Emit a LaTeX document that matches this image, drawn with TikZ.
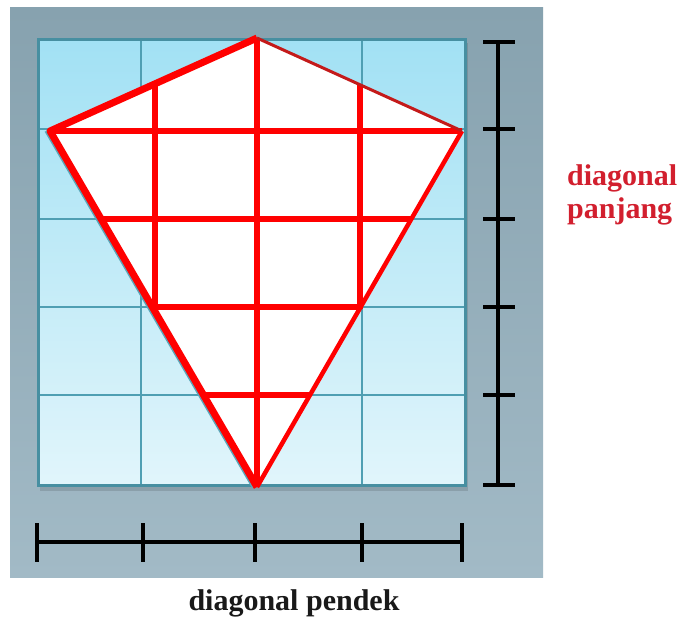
\documentclass[tikz,border=0pt]{standalone}
\usepackage{fontspec}
\setmainfont{Liberation Serif}
\definecolor{panelT}{HTML}{87A2AF}
\definecolor{panelB}{HTML}{A2BAC6}
\definecolor{tileT}{HTML}{A2E1F4}
\definecolor{tileB}{HTML}{E1F5FB}
\definecolor{tealln}{HTML}{4F9FB3}
\definecolor{kred}{HTML}{FF0000}
\definecolor{kdred}{HTML}{C41A1A}
\definecolor{txtred}{HTML}{D21F2E}
\definecolor{shadowc}{HTML}{5AA6B9}
\begin{document}
\begin{tikzpicture}[x=1pt,y=-1pt,
  tileline/.style={draw=tealln,line width=2pt},
  tileborder/.style={draw=tealln!90!black,line width=3pt},
  redln/.style={draw=kred,line width=6pt},
  scl/.style={draw=black,line width=4pt},
  lbl/.style={font=\fontsize{30}{33}\selectfont\bfseries,inner sep=0pt}]
\useasboundingbox (0,0) rectangle (682,623);
\fill[white] (0,0) rectangle (682,623);
% panel
\shade[top color=panelT,bottom color=panelB] (10,8) rectangle (543,577);
% tile area
\fill[black,opacity=0.12] (40,43) rectangle (468,491);
\shade[top color=tileT,bottom color=tileB] (38,40) rectangle (465,485);
\foreach \x in {141,251,362} \draw[tileline] (\x,40) -- (\x,485);
\foreach \y in {129,219,307,395} \draw[tileline] (38,\y) -- (465,\y);
\draw[tileborder] (38,40) rectangle (465,485);
% kite
\coordinate (T) at (257,38);
\coordinate (L) at (50,131);
\coordinate (R) at (462,131);
\coordinate (B) at (257,487);
\draw[shadowc,line width=3pt] ([xshift=-4pt]L) -- ([xshift=-4pt]B);
\draw[shadowc!60,line width=2pt] ([yshift=-4pt]L) -- ([yshift=-4pt]T);
\fill[white] (T) -- (R) -- (B) -- (L) -- cycle;
% inner red grid
\draw[redln] (L) -- (R);
\draw[redln] (T) -- (B);
\draw[redln] (155,84) -- (155,309);
\draw[redln] (360,85) -- (360,309);
\draw[redln] (101,219) -- (411,219);
\draw[redln] (152,307) -- (361,307);
\draw[redln] (203,395) -- (310,395);
% kite outline
\draw[kred,line width=7pt,line join=round] (T) -- (L) -- (B);
\draw[kred,line width=4.5pt,line join=round] (B) -- (R);
\draw[kdred,line width=3pt,line join=round] (T) -- (R);
% vertical scale
\coordinate (VT) at (498,42);
\coordinate (VB) at (498,485);
\draw[scl] (VT) -- (VB);
\foreach \y in {42,129,219,307,395,485} \draw[scl] (483,\y) -- (515,\y);
% horizontal scale
\coordinate (HL) at (37,542);
\coordinate (HR) at (462,542);
\draw[scl] (HL) -- (HR);
\foreach \x in {37,143,255,362,462} \draw[scl] (\x,523) -- (\x,562);
% labels
\node[lbl,text=txtred,align=left,anchor=north west] (lp) at (567,164) {diagonal\\panjang};
\node[lbl,text=black!90,anchor=base] (ld) at (294,610) {diagonal pendek};
\end{tikzpicture}
\end{document}
